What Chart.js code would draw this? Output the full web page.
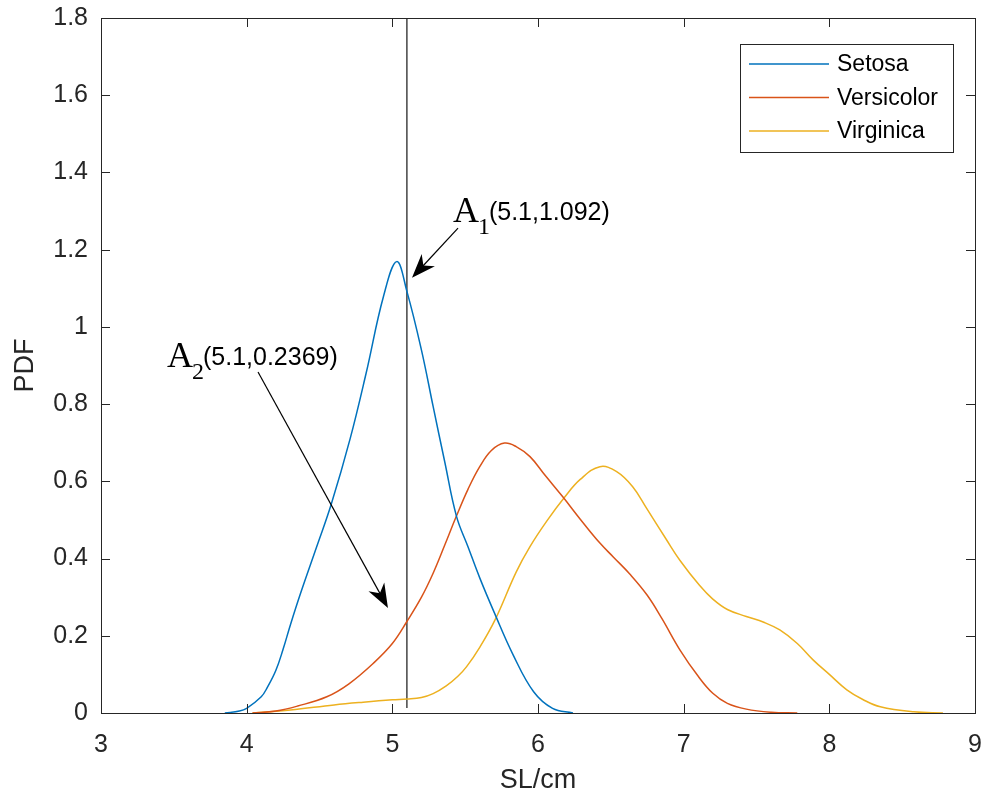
<!DOCTYPE html>
<html>
<head>
<meta charset="utf-8">
<script src="https://cdn.jsdelivr.net/npm/chart.js@4.4.1/dist/chart.umd.min.js"></script>
<style>
  html, body { margin: 0; padding: 0; background: #fff; }
  #wrap { width: 989px; height: 800px; }
</style>
</head>
<body>
<div id="wrap"><canvas id="pdf-chart" width="989" height="800"></canvas></div>
<script>
// ==== Data ====
const setosaX = [3.85, 3.95, 4.0, 4.1, 4.14, 4.2, 4.25, 4.3, 4.37, 4.48, 4.58, 4.71, 4.82, 4.94, 5.03, 5.1, 5.2, 5.28, 5.36, 5.44, 5.52, 5.6, 5.7, 5.83, 5.97, 6.1, 6.24];
const setosaY = [0, 0.005, 0.012, 0.042, 0.065, 0.11, 0.165, 0.228, 0.31, 0.43, 0.54, 0.71, 0.88, 1.08, 1.169, 1.092, 0.94, 0.794, 0.65, 0.51, 0.43, 0.35, 0.26, 0.15, 0.055, 0.012, 0];

const versX = [4.04, 4.2, 4.35, 4.55, 4.7, 4.87, 5.0, 5.1, 5.2, 5.28, 5.36, 5.44, 5.52, 5.6, 5.68, 5.77, 5.85, 5.945, 6.05, 6.17, 6.29, 6.425, 6.52, 6.63, 6.75, 6.85, 6.975, 7.1, 7.2, 7.3, 7.43, 7.6, 7.78];
const versY = [0, 0.005, 0.018, 0.042, 0.075, 0.129, 0.18, 0.237, 0.3, 0.362, 0.435, 0.51, 0.58, 0.638, 0.68, 0.699, 0.69, 0.664, 0.615, 0.56, 0.502, 0.44, 0.403, 0.36, 0.305, 0.245, 0.163, 0.095, 0.051, 0.025, 0.01, 0.002, 0];

const virgX = [4.04, 4.3, 4.6, 4.8, 5.0, 5.1, 5.2, 5.28, 5.37, 5.45, 5.51, 5.6, 5.705, 5.85, 5.945, 6.06, 6.185, 6.29, 6.425, 6.54, 6.65, 6.746, 6.88, 6.975, 7.11, 7.2, 7.3, 7.43, 7.55, 7.66, 7.78, 7.89, 8.0, 8.12, 8.23, 8.35, 8.58, 8.78];
const virgY = [0, 0.008, 0.021, 0.028, 0.034, 0.036, 0.04, 0.05, 0.07, 0.095, 0.12, 0.17, 0.241, 0.365, 0.431, 0.497, 0.56, 0.605, 0.638, 0.625, 0.586, 0.53, 0.45, 0.395, 0.33, 0.295, 0.268, 0.25, 0.235, 0.215, 0.18, 0.137, 0.1, 0.06, 0.035, 0.016, 0.003, 0];

const seriesNames = ["Setosa", "Versicolor", "Virginica"];
const seriesColors = ["#0072BD", "#D95319", "#EDB120"];

// vertical marker at SL = 5.1
const markerX = [5.1, 5.1];
const markerY = [0.013, 1.8];

const xTicks = [3, 4, 5, 6, 7, 8, 9];
const yTicks = [0, 0.2, 0.4, 0.6, 0.8, 1, 1.2, 1.4, 1.6, 1.8];

// annotations: label anchor, arrow tail, arrow tip (data coords)
const annoNames = ["A", "A"];
const annoSubs = ["1", "2"];
const annoTexts = ["(5.1,1.092)", "(5.1,0.2369)"];
const annoLabelX = [5.416, 3.453];
const annoLabelY = [1.272, 0.896];
const arrowTailX = [5.451, 4.078];
const arrowTailY = [1.256, 0.883];
const arrowTipX = [5.135, 4.970];
const arrowTipY = [1.127, 0.272];

const AXIS = "#262626";
const SANS = "'Liberation Sans', Arial, Helvetica, sans-serif";
const SERIF = "'Liberation Serif', 'Times New Roman', serif";

function pts(xs, ys) {
  return xs.map((x, i) => ({ x: x, y: ys[i] }));
}

function curve(label, xs, ys, color) {
  return {
    label: label,
    data: pts(xs, ys),
    borderColor: color,
    backgroundColor: color,
    borderWidth: 1.5,
    pointRadius: 0,
    tension: 0.4,
    fill: false
  };
}

// ==== Box, inner ticks, legend and arrows ====
const matlabDecor = {
  id: "matlabDecor",
  afterDraw(chart) {
    const ctx = chart.ctx;
    const xs = chart.scales.x;
    const ys = chart.scales.y;
    const a = chart.chartArea;
    ctx.save();

    // axes box
    ctx.strokeStyle = AXIS;
    ctx.lineWidth = 1;
    ctx.strokeRect(Math.round(a.left) + 0.5, Math.round(a.top) + 0.5,
      Math.round(a.right - a.left), Math.round(a.bottom - a.top));

    // inner ticks on all four sides
    const tl = 9;
    ctx.beginPath();
    xTicks.forEach(v => {
      const px = Math.round(xs.getPixelForValue(v)) + 0.5;
      ctx.moveTo(px, a.bottom); ctx.lineTo(px, a.bottom - tl);
      ctx.moveTo(px, a.top); ctx.lineTo(px, a.top + tl);
    });
    yTicks.forEach(v => {
      const py = Math.round(ys.getPixelForValue(v)) + 0.5;
      ctx.moveTo(a.left, py); ctx.lineTo(a.left + tl, py);
      ctx.moveTo(a.right, py); ctx.lineTo(a.right - tl, py);
    });
    ctx.stroke();

    // legend (top right, inside axes)
    const lx = a.right - 235, ly = a.top + 26, lw = 213, lh = 108;
    ctx.fillStyle = "#fff";
    ctx.fillRect(lx, ly, lw, lh);
    ctx.strokeStyle = AXIS;
    ctx.strokeRect(lx + 0.5, ly + 0.5, lw, lh);
    ctx.font = "23px " + SANS;
    ctx.textBaseline = "middle";
    seriesNames.forEach((name, i) => {
      const ry = ly + 20 + i * 33.5;
      ctx.strokeStyle = seriesColors[i];
      ctx.lineWidth = 1.5;
      ctx.beginPath();
      ctx.moveTo(lx + 9, ry); ctx.lineTo(lx + 89, ry);
      ctx.stroke();
      ctx.fillStyle = "#000";
      ctx.fillText(name, lx + 97, ry + 1);
    });

    // annotation arrows and labels
    for (let i = 0; i < annoNames.length; i++) {
      const tx = xs.getPixelForValue(arrowTailX[i]);
      const ty = ys.getPixelForValue(arrowTailY[i]);
      const hx = xs.getPixelForValue(arrowTipX[i]);
      const hy = ys.getPixelForValue(arrowTipY[i]);
      const dx = hx - tx, dy = hy - ty;
      const len = Math.hypot(dx, dy);
      const ux = dx / len, uy = dy / len;
      const nx = -uy, ny = ux;
      const L = 24, W = 9;
      ctx.strokeStyle = "#000";
      ctx.lineWidth = 1.2;
      ctx.beginPath();
      ctx.moveTo(tx, ty);
      ctx.lineTo(hx - ux * L * 0.6, hy - uy * L * 0.6);
      ctx.stroke();
      ctx.fillStyle = "#000";
      ctx.beginPath();
      ctx.moveTo(hx, hy);
      ctx.lineTo(hx - ux * L + nx * W, hy - uy * L + ny * W);
      ctx.lineTo(hx - ux * L * 0.7, hy - uy * L * 0.7);
      ctx.lineTo(hx - ux * L - nx * W, hy - uy * L - ny * W);
      ctx.closePath();
      ctx.fill();

      const bx = xs.getPixelForValue(annoLabelX[i]);
      const by = ys.getPixelForValue(annoLabelY[i]);
      ctx.textBaseline = "alphabetic";
      ctx.fillStyle = "#000";
      ctx.font = "36px " + SERIF;
      ctx.fillText(annoNames[i], bx, by);
      const aw = ctx.measureText(annoNames[i]).width;
      ctx.font = "24px " + SERIF;
      ctx.fillText(annoSubs[i], bx + aw - 1, by + 12);
      const sw = ctx.measureText(annoSubs[i]).width;
      ctx.font = "25px " + SANS;
      ctx.fillText(annoTexts[i], bx + aw + sw - 2, by - 2);
    }
    ctx.restore();
  }
};

new Chart(document.getElementById("pdf-chart"), {
  type: "line",
  data: {
    datasets: [
      curve(seriesNames[0], setosaX, setosaY, seriesColors[0]),
      curve(seriesNames[1], versX, versY, seriesColors[1]),
      curve(seriesNames[2], virgX, virgY, seriesColors[2]),
      {
        label: "x = 5.1",
        data: pts(markerX, markerY),
        borderColor: AXIS,
        borderWidth: 1.3,
        pointRadius: 0,
        tension: 0
      }
    ]
  },
  options: {
    responsive: false,
    animation: false,
    events: [],
    layout: { padding: { top: 18, right: 14, left: 0, bottom: 0 } },
    plugins: {
      legend: { display: false },
      tooltip: { enabled: false }
    },
    scales: {
      x: {
        type: "linear",
        min: 3,
        max: 9,
        afterBuildTicks: s => { s.ticks = xTicks.map(v => ({ value: v })); },
        afterFit: s => { s.height = 87; s.paddingLeft = 0; s.paddingRight = 0; },
        grid: { display: false, drawTicks: false },
        border: { display: false },
        ticks: {
          padding: 17,
          color: AXIS,
          font: { family: SANS, size: 25 },
          maxRotation: 0,
          callback: v => String(v)
        },
        title: {
          display: true,
          text: "SL/cm",
          color: AXIS,
          font: { family: SANS, size: 27 },
          padding: { top: 0, bottom: 3 }
        }
      },
      y: {
        type: "linear",
        min: 0,
        max: 1.8,
        afterBuildTicks: s => { s.ticks = yTicks.map(v => ({ value: v })); },
        afterFit: s => { s.width = 101; s.paddingTop = 0; s.paddingBottom = 0; },
        grid: { display: false, drawTicks: false },
        border: { display: false },
        ticks: {
          padding: 13,
          color: AXIS,
          font: { family: SANS, size: 25 },
          callback: v => String(Math.round(v * 10) / 10)
        },
        title: {
          display: true,
          text: "PDF",
          color: AXIS,
          font: { family: SANS, size: 27 },
          padding: { top: 9, bottom: 0 }
        }
      }
    }
  },
  plugins: [matlabDecor]
});
</script>
</body>
</html>
